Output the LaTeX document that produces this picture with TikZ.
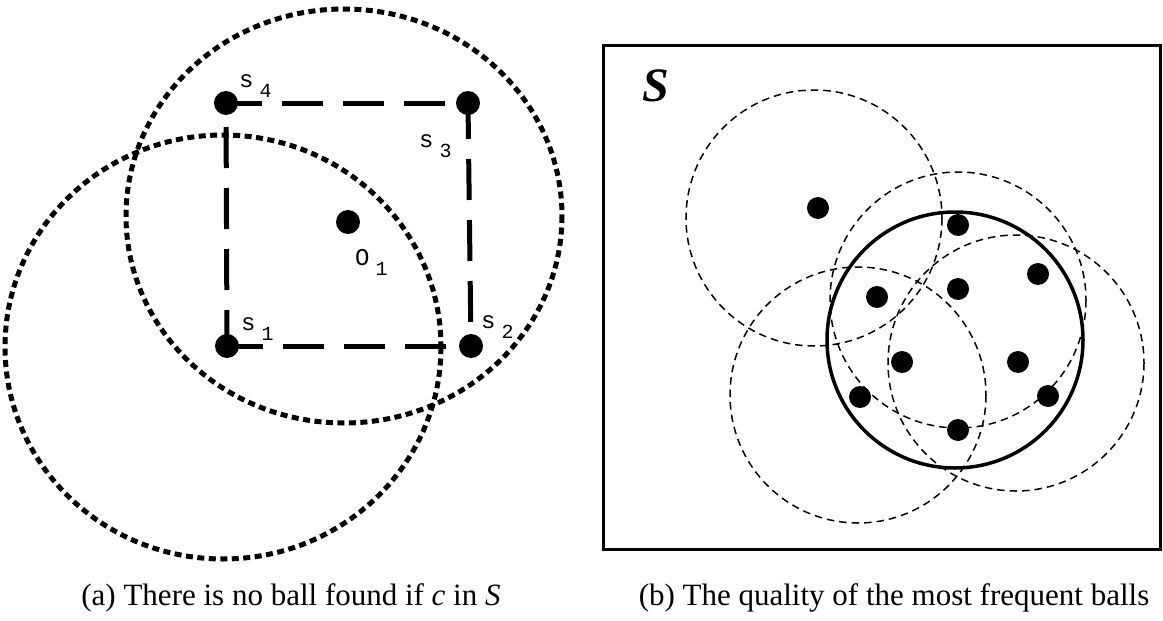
\documentclass[tikz,border=0pt]{standalone}
\usepackage{fontspec}
\setmainfont{Liberation Serif}
\setmonofont{Liberation Mono}
\newcommand{\sublab}[2]{#1\kern6pt\raisebox{-10pt}{\fontsize{20}{20}\selectfont #2}}

\begin{document}
\begin{tikzpicture}[
  x=1pt,y=-1pt,
  dot/.style={circle,fill=black,inner sep=0pt,minimum size=#1},
  dot/.default=24pt,
  ring/.style={line width=5pt,dash pattern=on 7pt off 4.5pt},
  side/.style={line width=5pt,dash pattern=on 41pt off 20pt,dash phase=5pt},
  ball/.style={line width=1.5pt,dash pattern=on 7.5pt off 5pt},
  tlabel/.style={font=\ttfamily\fontsize{24}{24}\selectfont,inner sep=0pt,anchor=base west},
  caption/.style={font=\fontsize{31}{31}\selectfont,inner sep=0pt,anchor=base}
]
  \useasboundingbox (0,0) rectangle (1163,621);

  % (a) four sample points and their balls
  \node[dot] (s1) at (227,346) {};
  \node[dot] (s2) at (471,346) {};
  \node[dot] (s3) at (468,103) {};
  \node[dot] (s4) at (226,103) {};
  \node[dot] (o1) at (348,222) {};

  \draw[side] (s1.center) -- (s2.center);
  \draw[side] (s3.center) -- (s2.center);
  \draw[side] (s4.center) -- (s3.center);
  \draw[side] (s1.center) -- (s4.center);

  \draw[ring] (223,347) ellipse [x radius=218, y radius=212];
  \draw[ring] (344,216) ellipse [x radius=218, y radius=207];

  \node[tlabel] (s4lab) at (239,87) {\sublab{s}{4}};
  \node[tlabel] (s3lab) at (419,147) {\sublab{s}{3}};
  \node[tlabel] (o1lab) at (355,265) {\sublab{O}{1}};
  \node[tlabel] (s1lab) at (241,330) {\sublab{s}{1}};
  \node[tlabel] (s2lab) at (481,328) {\sublab{s}{2}};

  % (b) the most frequent balls in S
  \draw[line width=3pt] (603,45) rectangle (1160,549);
  \node[inner sep=0pt,anchor=base west,font=\bfseries\itshape\fontsize{48}{48}\selectfont]
    (space) at (642,101) {S};

  \foreach \cx/\cy in {814/218, 958/300, 858/395, 1016/363}
    \draw[ball] (\cx,\cy) circle [radius=128];
  \draw[line width=3.5pt] (955,340) circle [radius=128];

  \foreach \n/\px/\py in {1/818/208, 2/958/225, 3/1038/274, 4/877/297, 5/958/289,
                          6/902/362, 7/1018/362, 8/860/397, 9/1048/396, 10/958/430}
    \node[dot=22pt] (b\n) at (\px,\py) {};

  % captions
  \node[caption] (capa) at (291,605) {(a) There is no ball found if \textit{c} in \textit{S}};
  \node[caption] (capb) at (894,605) {(b) The quality of the most frequent balls};
\end{tikzpicture}
\end{document}
